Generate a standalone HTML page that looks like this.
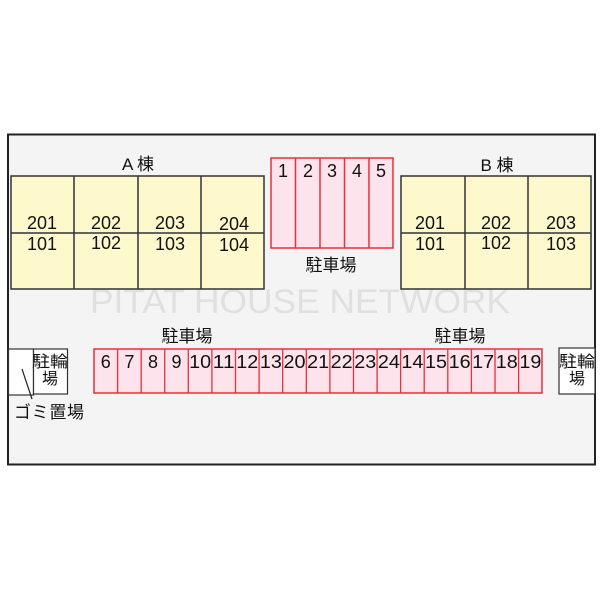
<!DOCTYPE html>
<html><head><meta charset="utf-8"><style>body{margin:0;background:#fff}svg{display:block}text{font-family:"Liberation Sans","Noto Sans CJK JP",sans-serif;fill:#111}</style></head><body>
<svg width="600" height="600" viewBox="0 0 600 600" xmlns="http://www.w3.org/2000/svg">
<rect x="8" y="134.5" width="587" height="330" fill="#f4f4f4" stroke="#222" stroke-width="2"/>
<text x="300" y="313" font-size="34" style="fill:#e0e0e0" text-anchor="middle" textLength="420" lengthAdjust="spacingAndGlyphs">PITAT HOUSE NETWORK</text>
<g stroke="#333" stroke-width="1.5" fill="#fdf9cd">
<rect x="11" y="176" width="253" height="113"/>
<line x1="74" y1="176" x2="74" y2="289"/><line x1="138" y1="176" x2="138" y2="289"/><line x1="201" y1="176" x2="201" y2="289"/>
<line x1="11" y1="233" x2="264" y2="233"/>
<rect x="401" y="176" width="190" height="113"/>
<line x1="465" y1="176" x2="465" y2="289"/><line x1="528" y1="176" x2="528" y2="289"/>
<line x1="401" y1="233" x2="591" y2="233"/>
</g>
<g font-size="18" text-anchor="middle">
<text x="42" y="229">201</text><text x="106" y="229">202</text><text x="170" y="229">203</text><text x="234" y="230">204</text>
<text x="42" y="250">101</text><text x="106" y="249">102</text><text x="170" y="250">103</text><text x="234" y="251">104</text>
<text x="430" y="229">201</text><text x="496" y="229">202</text><text x="561" y="229">203</text>
<text x="430" y="250">101</text><text x="496" y="249">102</text><text x="561" y="250">103</text>
</g>
<text x="138" y="170" font-size="17" text-anchor="middle">A 棟</text>
<text x="497" y="171" font-size="17" text-anchor="middle">B 棟</text>
<g stroke="#e8303a" stroke-width="1.5" fill="#fde4ec">
<rect x="271" y="158" width="122" height="90"/>
<line x1="295.5" y1="158" x2="295.5" y2="248"/><line x1="320" y1="158" x2="320" y2="248"/><line x1="344.5" y1="158" x2="344.5" y2="248"/><line x1="369" y1="158" x2="369" y2="248"/>
<rect x="94" y="349" width="448" height="44"/>
</g>
<g font-size="18" text-anchor="middle">
<text x="283" y="177">1</text><text x="308" y="177">2</text><text x="332" y="177">3</text><text x="357" y="177">4</text><text x="381" y="177">5</text>
</g>
<text x="331" y="271" font-size="17" text-anchor="middle">駐車場</text>
<text x="187" y="342" font-size="17" text-anchor="middle">駐車場</text>
<text x="460" y="342" font-size="17" text-anchor="middle">駐車場</text>
<rect x="8.5" y="349" width="25" height="46" fill="#fff" stroke="#333" stroke-width="1.2"/>
<rect x="33.5" y="349" width="34" height="45" fill="#fff" stroke="#333" stroke-width="1.2"/>
<line x1="22" y1="369" x2="32" y2="399" stroke="#222" stroke-width="1.2"/>
<text x="50" y="367" font-size="16" text-anchor="middle" textLength="36" lengthAdjust="spacingAndGlyphs">駐輪</text>
<text x="50" y="384" font-size="16" text-anchor="middle">場</text>
<text x="49" y="418" font-size="17" text-anchor="middle" textLength="70" lengthAdjust="spacing">ゴミ置場</text>
<rect x="559" y="348" width="36" height="46" fill="#fff" stroke="#333" stroke-width="1.2"/>
<text x="577" y="367" font-size="16" text-anchor="middle" textLength="36" lengthAdjust="spacingAndGlyphs">駐輪</text>
<text x="577" y="384" font-size="16" text-anchor="middle">場</text>
<g stroke="#e8303a" stroke-width="1.3">
<line x1="117.6" y1="349" x2="117.6" y2="393"/><line x1="141.2" y1="349" x2="141.2" y2="393"/><line x1="164.7" y1="349" x2="164.7" y2="393"/><line x1="188.3" y1="349" x2="188.3" y2="393"/><line x1="211.9" y1="349" x2="211.9" y2="393"/><line x1="235.5" y1="349" x2="235.5" y2="393"/><line x1="259.1" y1="349" x2="259.1" y2="393"/><line x1="282.7" y1="349" x2="282.7" y2="393"/><line x1="306.3" y1="349" x2="306.3" y2="393"/><line x1="329.9" y1="349" x2="329.9" y2="393"/><line x1="353.5" y1="349" x2="353.5" y2="393"/><line x1="377.1" y1="349" x2="377.1" y2="393"/><line x1="400.6" y1="349" x2="400.6" y2="393"/><line x1="424.2" y1="349" x2="424.2" y2="393"/><line x1="447.8" y1="349" x2="447.8" y2="393"/><line x1="471.4" y1="349" x2="471.4" y2="393"/><line x1="495" y1="349" x2="495" y2="393"/><line x1="518.6" y1="349" x2="518.6" y2="393"/>
</g>
<g font-size="18" text-anchor="middle">
<text x="105.8" y="368">6</text><text x="129.4" y="368">7</text><text x="153" y="368">8</text><text x="176.5" y="368">9</text>
<text x="200.1" y="368" textLength="22" lengthAdjust="spacingAndGlyphs">10</text><text x="223.7" y="368" textLength="22" lengthAdjust="spacingAndGlyphs">11</text><text x="247.3" y="368" textLength="22" lengthAdjust="spacingAndGlyphs">12</text><text x="270.9" y="368" textLength="22" lengthAdjust="spacingAndGlyphs">13</text><text x="294.5" y="368" textLength="22" lengthAdjust="spacingAndGlyphs">20</text><text x="318.1" y="368" textLength="22" lengthAdjust="spacingAndGlyphs">21</text><text x="341.7" y="368" textLength="22" lengthAdjust="spacingAndGlyphs">22</text><text x="365.3" y="368" textLength="22" lengthAdjust="spacingAndGlyphs">23</text><text x="388.9" y="368" textLength="22" lengthAdjust="spacingAndGlyphs">24</text><text x="412.4" y="368" textLength="22" lengthAdjust="spacingAndGlyphs">14</text><text x="436" y="368" textLength="22" lengthAdjust="spacingAndGlyphs">15</text><text x="459.6" y="368" textLength="22" lengthAdjust="spacingAndGlyphs">16</text><text x="483.2" y="368" textLength="22" lengthAdjust="spacingAndGlyphs">17</text><text x="506.8" y="368" textLength="22" lengthAdjust="spacingAndGlyphs">18</text><text x="530.4" y="368" textLength="22" lengthAdjust="spacingAndGlyphs">19</text>
</g>
</svg>
</body></html>
